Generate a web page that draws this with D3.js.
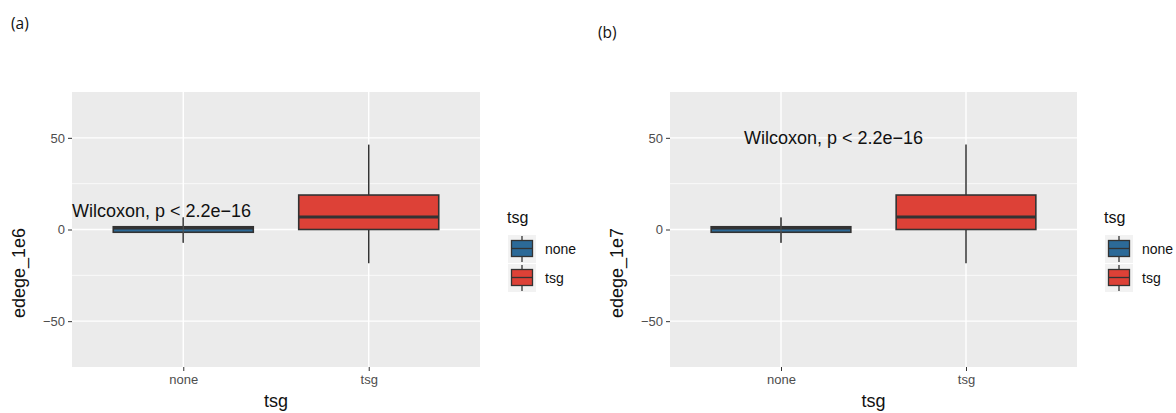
<!DOCTYPE html>
<html>
<head>
<meta charset="utf-8">
<script src="https://cdn.jsdelivr.net/npm/d3@7"></script>
<style>
  html, body { margin: 0; padding: 0; background: #fff; }
  svg { display: block; }
  text { font-family: "Liberation Sans", Arial, Helvetica, sans-serif; }
</style>
</head>
<body>
<svg id="chart" width="1176" height="413"></svg>
<script>
// ---- data ----
const categories = ["none", "tsg"];
const panelTags = ["(a)", "(b)"];
const yTitles = ["edege_1e6", "edege_1e7"];
const whiskerLow = [-7.2, -18.4];
const q1 = [-1.5, 0];
const medians = [0.8, 6.8];
const q3 = [1.5, 18.8];
const whiskerHigh = [6.6, 46.3];
const yTicks = [-50, 0, 50];
const yMinorTicks = [-25, 25];
const yDomain = [-75, 75];
const pLabel = "Wilcoxon, p < 2.2e\u221216";
const pLabelX = [0.4, 0.8];   // in category units (1 = none, 2 = tsg)
const pLabelY = [7, 46.5];
const legendTitle = "tsg";
const xTitle = "tsg";
const colors = ["#2C6A98", "#DD4137"];

// ---- layout ----
const svg = d3.select("#chart");
const panels = [
  { left: 72, right: 480, tag: [11, 29], legendX: 508 },
  { left: 670, right: 1077, tag: [598, 38], legendX: 1105 }
];
const panelTop = 92, panelBottom = 367;
const outline = "#333333";

panels.forEach((p, i) => {
  const g = svg.append("g");
  const x = d3.scaleLinear().domain([0.4, 2.6]).range([p.left, p.right]);
  const y = d3.scaleLinear().domain(yDomain).range([panelBottom, panelTop]);

  // panel tag
  svg.append("text").attr("x", p.tag[0]).attr("y", p.tag[1])
    .attr("font-size", 15.5).attr("fill", "#111")
    .style("font-family", "'Open Sans', 'DejaVu Sans', sans-serif")
    .text(panelTags[i]);

  // background
  g.append("rect").attr("x", p.left).attr("y", panelTop)
    .attr("width", p.right - p.left).attr("height", panelBottom - panelTop)
    .attr("fill", "#EBEBEB");

  // minor grid
  g.selectAll(".minor").data(yMinorTicks).join("line")
    .attr("x1", p.left).attr("x2", p.right)
    .attr("y1", d => y(d)).attr("y2", d => y(d))
    .attr("stroke", "#fff").attr("stroke-width", 0.7);
  // major grid
  g.selectAll(".major").data(yTicks).join("line")
    .attr("x1", p.left).attr("x2", p.right)
    .attr("y1", d => y(d)).attr("y2", d => y(d))
    .attr("stroke", "#fff").attr("stroke-width", 1.4);
  g.selectAll(".vmajor").data(categories).join("line")
    .attr("x1", (d, j) => x(j + 1)).attr("x2", (d, j) => x(j + 1))
    .attr("y1", panelTop).attr("y2", panelBottom)
    .attr("stroke", "#fff").attr("stroke-width", 1.4);

  // y axis
  const yAxis = d3.axisLeft(y).tickValues(yTicks).tickSize(4).tickPadding(3)
    .tickFormat(d => d < 0 ? "\u2212" + Math.abs(d) : String(d));
  const ya = g.append("g").attr("transform", `translate(${p.left},0)`).call(yAxis);
  ya.select(".domain").remove();
  ya.selectAll(".tick line").attr("stroke", "#333").attr("stroke-width", 1);
  ya.selectAll(".tick text").attr("fill", "#4D4D4D").attr("font-size", 13)
    .style("font-family", "'Liberation Sans', Arial, sans-serif");

  // x axis
  const xAxis = d3.axisBottom(x).tickValues([1, 2]).tickSize(4).tickPadding(4)
    .tickFormat(d => categories[d - 1]);
  const xa = g.append("g").attr("transform", `translate(0,${panelBottom})`).call(xAxis);
  xa.select(".domain").remove();
  xa.selectAll(".tick line").attr("stroke", "#333").attr("stroke-width", 1);
  xa.selectAll(".tick text").attr("fill", "#4D4D4D").attr("font-size", 13)
    .style("font-family", "'Liberation Sans', Arial, sans-serif");

  // boxes
  const bw = 0.755;
  categories.forEach((c, j) => {
    const cx = x(j + 1);
    const x0 = x(j + 1 - bw / 2), x1 = x(j + 1 + bw / 2);
    g.append("line").attr("x1", cx).attr("x2", cx)
      .attr("y1", y(q3[j])).attr("y2", y(whiskerHigh[j]))
      .attr("stroke", outline).attr("stroke-width", 1.5);
    g.append("line").attr("x1", cx).attr("x2", cx)
      .attr("y1", y(q1[j])).attr("y2", y(whiskerLow[j]))
      .attr("stroke", outline).attr("stroke-width", 1.5);
    g.append("rect").attr("x", x0).attr("y", y(q3[j]))
      .attr("width", x1 - x0).attr("height", y(q1[j]) - y(q3[j]))
      .attr("fill", colors[j]).attr("stroke", outline).attr("stroke-width", 1.6);
    g.append("line").attr("x1", x0).attr("x2", x1)
      .attr("y1", y(medians[j])).attr("y2", y(medians[j]))
      .attr("stroke", outline).attr("stroke-width", 3);
    if (j === 0) {
      g.append("line").attr("x1", cx).attr("x2", cx)
        .attr("y1", y(whiskerHigh[j])).attr("y2", y(whiskerLow[j]))
        .attr("stroke", "#555").attr("stroke-width", 1.2).attr("opacity", 0.8);
    }
  });

  // wilcoxon label
  g.append("text").attr("x", x(pLabelX[i])).attr("y", y(pLabelY[i]))
    .attr("font-size", 18).attr("fill", "#111")
    .text(pLabel);

  // axis titles
  g.append("text")
    .attr("transform", `translate(${p.left - 47},${273}) rotate(-90)`)
    .attr("text-anchor", "middle").attr("font-size", 18).attr("fill", "#111")
    .text(yTitles[i]);
  g.append("text").attr("x", (p.left + p.right) / 2).attr("y", 407)
    .attr("text-anchor", "middle").attr("font-size", 18).attr("fill", "#111")
    .text(xTitle);

  // legend
  const lx = p.legendX;
  g.append("text").attr("x", lx - 1).attr("y", 223)
    .attr("font-size", 16).attr("fill", "#111").text(legendTitle);
  categories.forEach((c, j) => {
    const ky = 235 + j * 29;
    g.append("rect").attr("x", lx).attr("y", ky).attr("width", 28).attr("height", 28)
      .attr("fill", "#F2F2F2");
    g.append("line").attr("x1", lx + 14).attr("x2", lx + 14)
      .attr("y1", ky + 1).attr("y2", ky + 27)
      .attr("stroke", outline).attr("stroke-width", 1.3);
    g.append("rect").attr("x", lx + 3.5).attr("y", ky + 5.5)
      .attr("width", 21).attr("height", 16)
      .attr("fill", colors[j]).attr("stroke", outline).attr("stroke-width", 1.3);
    g.append("line").attr("x1", lx + 3.5).attr("x2", lx + 24.5)
      .attr("y1", ky + 13.5).attr("y2", ky + 13.5)
      .attr("stroke", outline).attr("stroke-width", 1.3);
    g.append("text").attr("x", lx + 37).attr("y", ky + 14)
      .attr("dy", "0.35em").attr("font-size", 14).attr("fill", "#111")
      .text(c);
  });
});
</script>
</body>
</html>
